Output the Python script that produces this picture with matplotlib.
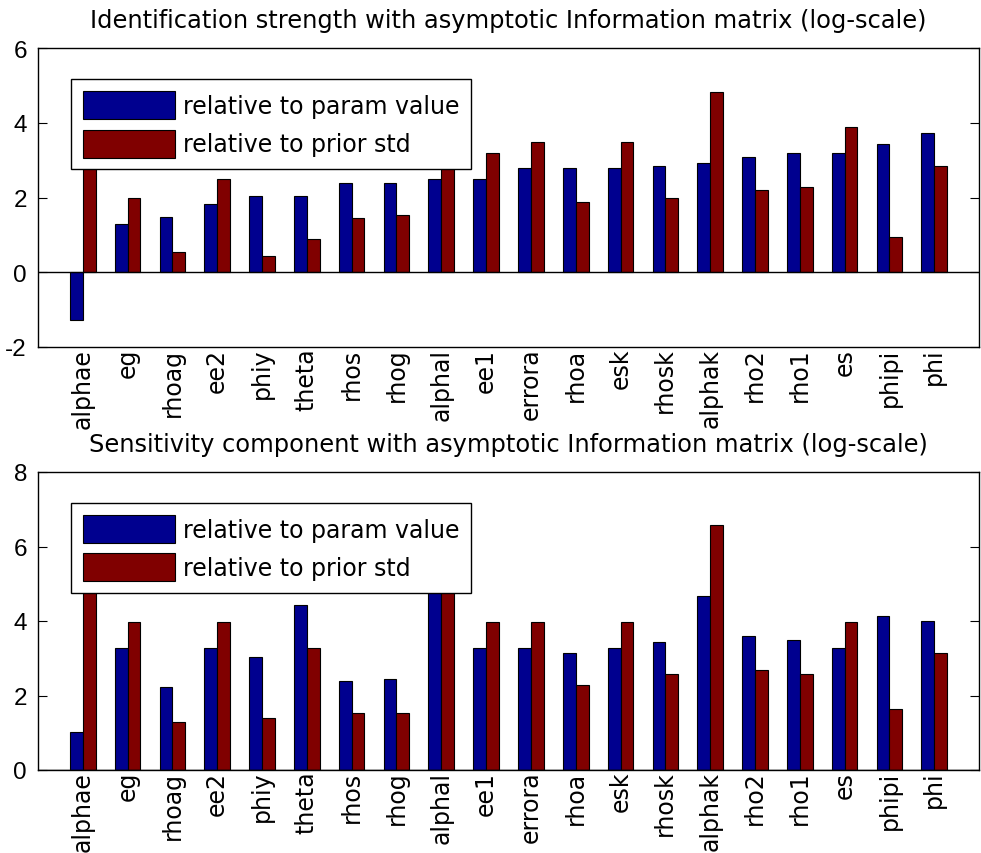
import numpy as np
import matplotlib
matplotlib.use("Agg")
import matplotlib.pyplot as plt
from matplotlib.ticker import FixedLocator

plt.rcParams['font.family'] = ['DejaVu Sans']
plt.rcParams['axes.unicode_minus'] = False

params = ['alphae', 'eg', 'rhoag', 'ee2', 'phiy', 'theta', 'rhos', 'rhog',
          'alphal', 'ee1', 'errora', 'rhoa', 'esk', 'rhosk', 'alphak',
          'rho2', 'rho1', 'es', 'phipi', 'phi']

# identification strength (log-scale)
ident_param = [-1.28, 1.30, 1.47, 1.82, 2.04, 2.04, 2.39, 2.39, 2.50, 2.50,
               2.80, 2.80, 2.80, 2.85, 2.91, 3.08, 3.19, 3.19, 3.42, 3.72]
ident_prior = [3.30, 1.99, 0.53, 2.50, 0.43, 0.89, 1.46, 1.52, 3.00, 3.19,
               3.48, 1.88, 3.48, 1.99, 4.81, 2.21, 2.27, 3.89, 0.94, 2.85]

# sensitivity component (log-scale)
sens_param = [1.01, 3.27, 2.22, 3.27, 3.03, 4.42, 2.39, 2.45, 5.00, 3.27,
              3.27, 3.15, 3.27, 3.43, 4.66, 3.61, 3.49, 3.27, 4.13, 4.01]
sens_prior = [5.59, 3.96, 1.29, 3.96, 1.40, 3.27, 1.52, 1.52, 5.50, 3.96,
              3.96, 2.28, 3.96, 2.57, 6.57, 2.69, 2.57, 3.96, 1.64, 3.15]

series_labels = ['relative to param value', 'relative to prior std']
titles = ['Identification strength with asymptotic Information matrix (log-scale)',
          'Sensitivity component with asymptotic Information matrix (log-scale)']

BLUE = (0, 0, 0.5625)
RED = (0.5, 0, 0)
FS = 17

W, H = 981, 854
fig = plt.figure(figsize=(W / 100, H / 100), dpi=100)


def draw_panel(rect, vals_a, vals_b, title, ylim):
    ax = fig.add_axes(rect)
    x = np.arange(1, len(params) + 1)
    bw = 0.286
    ax.bar(x - bw / 2, vals_a, bw, color=BLUE, edgecolor='k', linewidth=0.8,
           label=series_labels[0], zorder=2)
    ax.bar(x + bw / 2, vals_b, bw, color=RED, edgecolor='k', linewidth=0.8,
           label=series_labels[1], zorder=2)
    ax.axhline(0, color='k', linewidth=1.0, zorder=3)

    ax.set_xlim(0, 21)
    ax.set_ylim(*ylim)
    ax.set_yticks(np.arange(ylim[0], ylim[1] + 1, 2))
    for lbl in ax.get_yticklabels():
        lbl.set_fontfamily('Liberation Sans')

    # names under every bar group, tick marks only on even groups
    ax.set_xticks(x)
    ax.set_xticklabels(params, rotation=90, fontsize=FS)
    ax.xaxis.set_minor_locator(FixedLocator(np.arange(2, 21, 2)))
    ax.tick_params(axis='x', which='major', length=0, pad=0.5)
    ax.tick_params(axis='x', which='minor', direction='in', length=6.5,
                   width=0.8, top=True, bottom=True)
    ax.tick_params(axis='y', direction='in', length=6.5, width=0.8,
                   left=True, right=True, labelsize=17.5, pad=8)
    for s in ax.spines.values():
        s.set_linewidth(1.0)

    ax.set_title(title, fontsize=17.4, pad=15)
    leg = ax.legend(loc='upper left', bbox_to_anchor=(0.035, 0.896),
                    borderaxespad=0, fontsize=FS, fancybox=False,
                    framealpha=1, edgecolor='k', handlelength=3.9,
                    handleheight=1.45, handletextpad=0.35, labelspacing=0.45,
                    borderpad=0.5)
    leg.get_frame().set_linewidth(1.0)
    return ax


draw_panel([38 / W, 1 - 348 / H, 941 / W, 299 / H],
           ident_param, ident_prior, titles[0], (-2, 6))
draw_panel([38 / W, 1 - 771 / H, 941 / W, 298 / H],
           sens_param, sens_prior, titles[1], (0, 8))

fig.savefig('out.png', dpi=100)
